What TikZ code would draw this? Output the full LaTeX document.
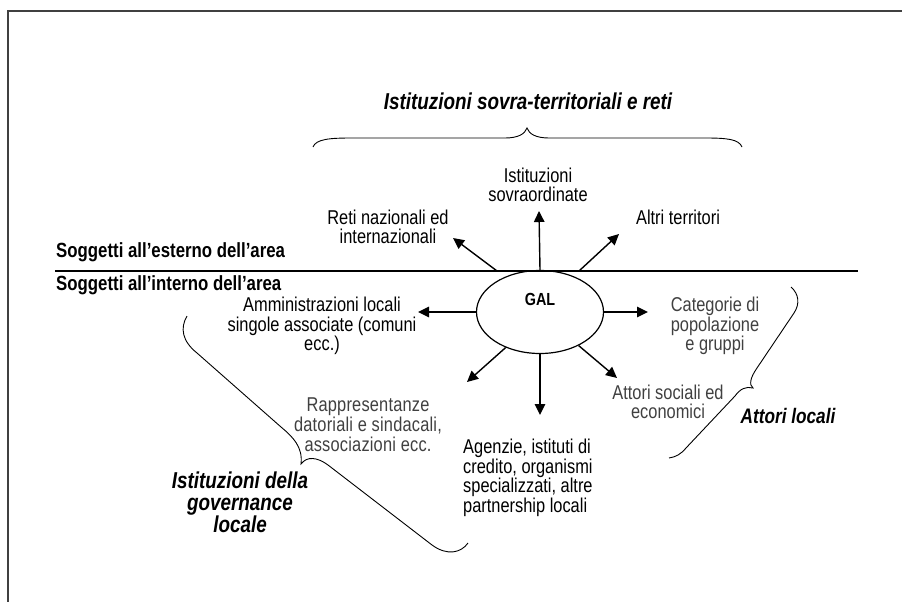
\documentclass[tikz,border=0pt]{standalone}
\usepackage{fontspec}
\setmainfont[FakeStretch=0.82]{Liberation Sans}
\usetikzlibrary{arrows.meta,shapes.geometric}
\begin{document}
\begin{tikzpicture}[x=1pt,y=-1pt,
  txt/.style={font=\fontsize{20}{19.6}\selectfont, align=center, inner sep=0pt},
  gtxt/.style={txt, text=black!75},
  lbl/.style={font=\fontsize{20.5}{22}\selectfont\bfseries, inner sep=0pt, anchor=west},
  grp/.style={font=\fontsize{23}{22}\selectfont\bfseries\itshape, align=center, inner sep=0pt},
  arr/.style={line width=1.4pt, -{Triangle[length=11pt,width=10.5pt]}},
  brace/.style={line width=0.9pt},
]
\useasboundingbox (0,0) rectangle (902,602);
% frame
\draw[line width=1.6pt, black!75] (8,602) -- (8,11) -- (902,11);
% separator
\draw[line width=2.6pt] (55,271) -- (858,271);
\node[lbl] (ext) at (56,252) {Soggetti all’esterno dell’area};
\node[lbl] (int) at (56,285) {Soggetti all’interno dell’area};

% GAL
\node[ellipse, draw, line width=1.2pt, minimum width=127pt, minimum height=83pt, inner sep=0pt] (gal) at (540,312) {};
\node[font=\fontsize{17.5}{18}\selectfont\bfseries, inner sep=0pt] (galtxt) at (540,299) {GAL};

% title and top brace
\node[grp] (title) at (528,101) {Istituzioni sovra-territoriali e reti};
\draw[brace] (313,147) .. controls (316,139) and (330,138) .. (352,138) -- (505,138)
  .. controls (518,138) and (525,134) .. (527,128)
  .. controls (529,134) and (536,138) .. (549,138) -- (705,138)
  .. controls (726,138) and (739,139) .. (742,147);

% outer targets
\node[txt] (sovra) at (538,185) {Istituzioni\\sovraordinate};
\node[txt] (reti) at (388,227) {Reti nazionali ed\\internazionali};
\node[txt] (altri) at (678,217) {Altri territori};

\coordinate (upE) at (539,211);
\coordinate (nwS) at (497,271);
\coordinate (nwE) at (453,238);
\coordinate (neS) at (579,271);
\coordinate (neE) at (619,234);
\draw[arr] (gal.north) -- (upE);
\draw[arr] (nwS) -- (nwE);
\draw[arr] (neS) -- (neE);

% inner targets
\node[txt] (amm) at (322,326) {Amministrazioni locali\\singole associate (comuni\\ecc.)};
\node[gtxt] (cat) at (715,326) {Categorie di\\popolazione\\e gruppi};
\node[gtxt] (att) at (668,402) {Attori sociali ed\\economici};
\node[gtxt, font=\fontsize{20}{20}\selectfont\addfontfeature{LetterSpace=1.0}] (rapp) at (368,425) {Rappresentanze\\datoriali e sindacali,\\associazioni ecc.};
\node[txt, align=left, anchor=west] (agz) at (463,478) {Agenzie, istituti di\\credito, organismi\\specializzati, altre\\partnership locali};

\coordinate (leftE) at (418,312);
\coordinate (rightE) at (648,312);
\coordinate (seE) at (617,378);
\coordinate (swE) at (467,382);
\coordinate (downE) at (540,415);
\draw[arr] (gal.west) -- (leftE);
\draw[arr] (gal.east) -- (rightE);
\draw[arr] (gal.-41) -- (seE);
\draw[arr] (gal.-134) -- (swE);
\draw[arr] (gal.south) -- (downE);

% Attori locali brace
\draw[brace] (791,287) .. controls (799,294) and (800,304) .. (794,313) -- (757,368)
  .. controls (750,378) and (749,385) .. (753,388)
  .. controls (746,386) and (740,389) .. (735,396) -- (686,448)
  .. controls (681,454) and (676,457) .. (669,458);
\node[grp, font=\fontsize{21}{22}\selectfont\bfseries\itshape] (attl) at (788,416) {Attori locali};

% governance brace
\draw[brace] (187,316) .. controls (180,328) and (182,341) .. (197,353) -- (281,427)
  .. controls (293,437) and (303,447) .. (301,464)
  .. controls (307,456) and (317,457) .. (328,465) -- (432,545)
  .. controls (447,556) and (461,553) .. (468,543);
\node[grp] (gov) at (240,502) {Istituzioni della\\governance\\locale};
\end{tikzpicture}
\end{document}
